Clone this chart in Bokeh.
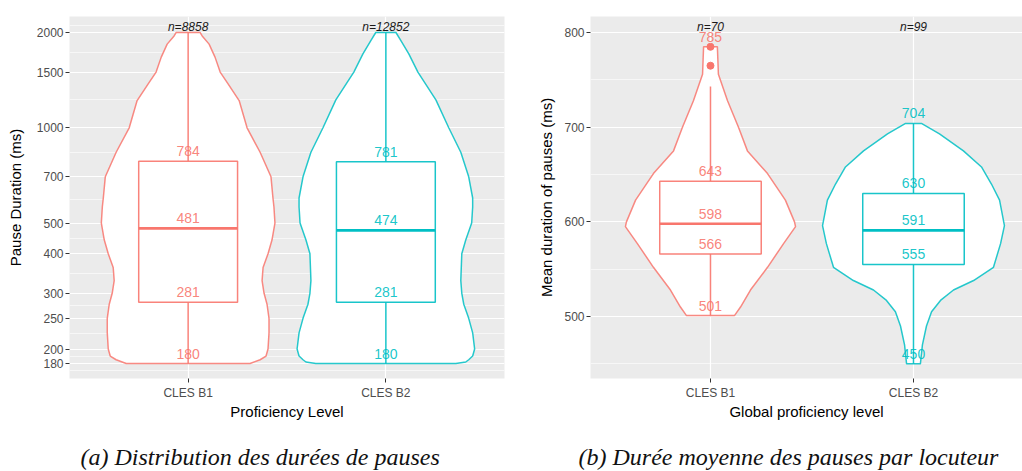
import numpy as np
from bokeh.plotting import figure
from bokeh.layouts import row
from bokeh.models import FixedTicker, Range1d, Title, NumeralTickFormatter
from bokeh.embed import file_html
from bokeh.resources import INLINE
from bokeh.core.properties import value

# ---------------- data ----------------
categories = ["CLES B1", "CLES B2"]
colors = ["#F8766D", "#00BFC4"]

# Panel (a): distribution of pause durations (log scale)
a_counts = [8858, 12852]
a_min = [180, 180]
a_q1 = [281, 281]
a_med = [481, 474]
a_q3 = [784, 781]
a_max = [2000, 2000]
a_labels = [[784, 481, 281, 180], [781, 474, 281, 180]]
a_yticks = [180, 200, 250, 300, 400, 500, 700, 1000, 1500, 2000]

# violin outlines (value, half-width in category units)
a_b1_vals = [180, 185, 190, 200, 225, 250, 277, 300, 329, 362, 400, 442, 500, 562,
             600, 700, 837, 1000, 1219, 1377, 1500, 1672, 1838, 1950, 2000]
a_b1_half = [0.313, 0.364, 0.394, 0.404, 0.409, 0.409, 0.399, 0.384, 0.374, 0.379,
             0.404, 0.424, 0.439, 0.434, 0.429, 0.419, 0.364, 0.298, 0.258, 0.202,
             0.162, 0.136, 0.106, 0.071, 0.061]
a_b2_vals = [180, 182, 185, 190, 200, 225, 250, 277, 300, 329, 400, 442, 500, 562,
             600, 700, 837, 1000, 1225, 1500, 1711, 1885, 2000]
a_b2_half = [0.354, 0.404, 0.419, 0.439, 0.449, 0.439, 0.419, 0.394, 0.384, 0.379,
             0.384, 0.404, 0.434, 0.439, 0.439, 0.419, 0.379, 0.318, 0.253, 0.162,
             0.116, 0.076, 0.051]

# Panel (b): mean pause duration per speaker
b_counts = [70, 99]
b_wlo = [501, 450]
b_q1 = [566, 555]
b_med = [598, 591]
b_q3 = [643, 630]
b_whi = [743, 704]
b_outliers = [[785, 765], []]
b_labels = [[785, 643, 598, 566, 501], [704, 630, 591, 555, 450]]
b_yticks = [500, 600, 700, 800]
b_yminor = [450, 550, 650, 750]

b_b1_vals = [501, 510, 528, 552, 577, 595, 600, 623, 651, 675, 700, 728, 756, 785]
b_b1_half = [0.118, 0.148, 0.197, 0.281, 0.360, 0.419, 0.414, 0.369, 0.281, 0.182,
             0.138, 0.084, 0.039, 0.034]
b_b2_vals = [450, 470, 490, 505, 517, 528, 538, 552, 577, 596, 623, 640, 658, 675, 693, 704]
b_b2_half = [0.034, 0.044, 0.064, 0.089, 0.133, 0.197, 0.296, 0.394, 0.429, 0.448,
             0.424, 0.384, 0.335, 0.246, 0.128, 0.039]

SANS = "Liberation Sans"
SERIF = "Liberation Serif"


def style(p, xlabel, ylabel):
    p.background_fill_color = "#EBEBEB"
    p.border_fill_color = "white"
    p.outline_line_color = None
    p.xaxis.ticker = FixedTicker(ticks=[1, 2])
    p.xaxis.major_label_overrides = {1: categories[0], 2: categories[1]}
    for ax in (p.xaxis[0], p.yaxis[0]):
        ax.axis_line_color = None
        ax.major_tick_in = 0
        ax.major_tick_out = 4
        ax.major_tick_line_color = "#333333"
        ax.minor_tick_line_color = None
        ax.major_label_text_font = SANS
        ax.major_label_text_font_size = "12px"
        ax.major_label_text_color = "#4D4D4D"
        ax.axis_label_text_font = SANS
        ax.axis_label_text_font_size = "15px"
        ax.axis_label_text_font_style = "normal"
        ax.axis_label_text_color = "black"
        ax.major_label_standoff = 2
    p.xaxis.axis_label = xlabel
    p.yaxis.axis_label = ylabel
    p.xaxis.major_label_standoff = 3
    p.xaxis.axis_label_standoff = 0
    p.xgrid.ticker = FixedTicker(ticks=[1, 2])
    p.xgrid.grid_line_color = "white"
    p.xgrid.grid_line_width = 1.2
    p.ygrid.grid_line_color = "white"
    p.ygrid.grid_line_width = 1.2
    p.ygrid.minor_grid_line_color = "white"
    p.ygrid.minor_grid_line_width = 0.6


def add_caption(p, text, offset):
    # small spacer between axis title and caption, then the caption itself
    p.add_layout(Title(text=" ", text_font_size="1px", standoff=16), "below")
    p.add_layout(Title(text=text, align="left", vertical_align="bottom",
                       text_font=SERIF, text_font_style="italic", text_font_size="24px",
                       text_color="#111111", standoff=0, offset=offset), "below")


def violin(p, center, vals, half, color):
    vals = np.asarray(vals, float)
    half = np.asarray(half, float)
    xs = np.concatenate([center - half, (center + half)[::-1]])
    ys = np.concatenate([vals, vals[::-1]])
    p.patch(xs, ys, fill_color="white", line_color=color, line_width=1.5, line_alpha=0.85)


def boxplot(p, center, lo, q1, med, q3, hi, color):
    p.segment(x0=[center, center], y0=[lo, q3], x1=[center, center], y1=[q1, hi],
              line_color=color, line_width=1.5, line_alpha=0.9)
    p.quad(left=[center - 0.25], right=[center + 0.25], bottom=[q1], top=[q3],
           fill_color="white", line_color=color, line_width=1.5, line_alpha=0.9)
    p.segment(x0=[center - 0.25], y0=[med], x1=[center + 0.25], y1=[med],
              line_color=color, line_width=2.6)


def labels(p, center, vals, color):
    p.text(x=[center] * len(vals), y=vals, text=[str(v) for v in vals],
           text_font=value(SANS), text_font_size="14px", text_color=color,
           text_alpha=0.9, text_align="center", text_baseline="alphabetic", y_offset=-10)


def counts(p, ytop, ns):
    p.text(x=[1, 2], y=[ytop, ytop], text=["n=%d" % n for n in ns],
           text_font=value(SANS), text_font_size="12px", text_font_style="italic",
           text_color="#1A1A1A", text_align="center", text_baseline="top", y_offset=3)


# ---------------- panel (a) ----------------
a_lo, a_hi = 161.4, 2247
pa = figure(width=520, height=470, y_axis_type="log",
            x_range=Range1d(0.4, 2.6), y_range=Range1d(a_lo, a_hi),
            output_backend="svg", toolbar_location=None, tools="",
            min_border_left=69, min_border_right=16, min_border_top=16, min_border_bottom=92)
style(pa, "Proficiency Level", "Pause Duration (ms)")
lt = np.log10(np.asarray(a_yticks, float))
step = lt[1] - lt[0]
ext = np.concatenate([[lt[0] - step], lt, [lt[-1] + step]])
a_minor = list(10 ** ((ext[:-1] + ext[1:]) / 2))
tk = FixedTicker(ticks=a_yticks, minor_ticks=a_minor)
pa.yaxis.ticker = tk
pa.ygrid.ticker = tk
pa.yaxis.formatter = NumeralTickFormatter(format="0")
pa.yaxis.axis_label_standoff = 10

a_shapes = [(a_b1_vals, a_b1_half), (a_b2_vals, a_b2_half)]
for i in range(2):
    c = i + 1
    violin(pa, c, a_shapes[i][0], a_shapes[i][1], colors[i])
    boxplot(pa, c, a_min[i], a_q1[i], a_med[i], a_q3[i], a_max[i], colors[i])
    labels(pa, c, a_labels[i], colors[i])
counts(pa, a_hi, a_counts)
add_caption(pa, "(a) Distribution des durées de pauses", 11)

# ---------------- panel (b) ----------------
b_lo, b_hi = 434.5, 817
pb = figure(width=502, height=470,
            x_range=Range1d(0.409, 2.537), y_range=Range1d(b_lo, b_hi),
            output_backend="svg", toolbar_location=None, tools="",
            min_border_left=70, min_border_right=0, min_border_top=16, min_border_bottom=92)
style(pb, "Global proficiency level", "Mean duration of pauses (ms)")
tkb = FixedTicker(ticks=b_yticks, minor_ticks=b_yminor)
pb.yaxis.ticker = tkb
pb.ygrid.ticker = tkb
pb.yaxis.axis_label_standoff = 6

b_shapes = [(b_b1_vals, b_b1_half), (b_b2_vals, b_b2_half)]
for i in range(2):
    c = i + 1
    violin(pb, c, b_shapes[i][0], b_shapes[i][1], colors[i])
    boxplot(pb, c, b_wlo[i], b_q1[i], b_med[i], b_q3[i], b_whi[i], colors[i])
    if b_outliers[i]:
        pb.scatter(x=[c] * len(b_outliers[i]), y=b_outliers[i], size=7,
                   fill_color=colors[i], line_color=colors[i])
    labels(pb, c, b_labels[i], colors[i])
counts(pb, b_hi, b_counts)
add_caption(pb, "(b) Durée moyenne des pauses par locuteur", -12)

layout = row(pa, pb)
open("out.html", "w").write(file_html(layout, INLINE))
